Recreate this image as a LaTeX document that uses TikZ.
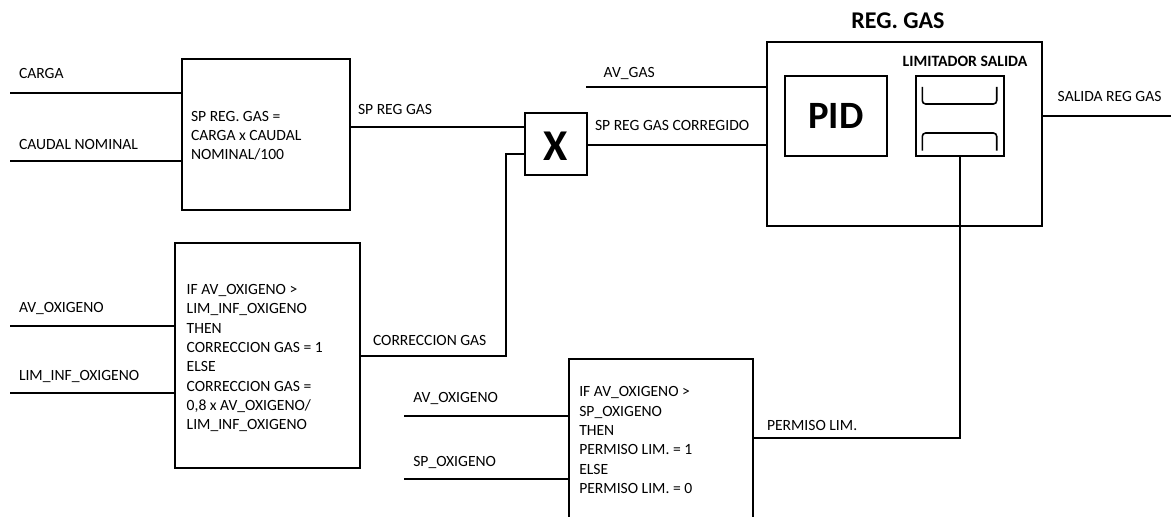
\documentclass[tikz,border=0pt]{standalone}
\usepackage{fontspec}
\setmainfont{Carlito}
\begin{document}
\begin{tikzpicture}[x=0.75pt,y=-0.75pt,
  line width=1.5pt,
  blk/.style={draw,rectangle,line width=1.5pt,inner sep=0pt},
  lbl/.style={anchor=west,inner sep=0pt,font=\fontsize{11.7}{13}\selectfont},
  body/.style={anchor=west,inner sep=0pt,align=left,font=\fontsize{11.7}{14.5}\selectfont},
  wire/.style={draw,line width=1.5pt}]
\clip (0,0) rectangle (1171,517);
\fill[white] (0,0) rectangle (1171,517);
% blocks
\node[blk,minimum width=168pt*0.75,minimum height=151pt*0.75] (calc) at (266,134.5) {};
\node[body] (calct) at (190,135.7) {SP REG. GAS =\\CARGA x CAUDAL\\NOMINAL/100};
\node[blk,minimum width=61.7pt*0.75,minimum height=62.3pt*0.75] (mul) at (555.8,143.8) {};
\node[inner sep=0pt,font=\fontsize{33}{33}\selectfont\bfseries] (mult) at (555.5,146) {X};
\node[blk,minimum width=274.4pt*0.75,minimum height=184pt*0.75] (reg) at (904.5,133.7) {};
\node[inner sep=0pt,font=\fontsize{18}{20}\selectfont\bfseries] (regt) at (898,20.7) {REG. GAS};
\node[blk,minimum width=101.7pt*0.75,minimum height=80pt*0.75] (pid) at (835.8,116) {};
\node[inner sep=0pt,font=\fontsize{29}{30}\selectfont\bfseries] (pidt) at (836,116) {PID};
\node[blk,minimum width=88.6pt*0.75,minimum height=80pt*0.75] (lim) at (960,116) {};
\node[inner sep=0pt,font=\fontsize{11.8}{13}\selectfont\bfseries] (limt) at (965,61.7) {LIMITADOR SALIDA};
\draw[line width=1.2pt,rounded corners=2.5pt] (922.3,87) -- (922.3,104) -- (996.7,104) -- (996.7,87);
\draw[line width=1.2pt,rounded corners=2.5pt] (922.3,150.7) -- (922.3,133) -- (996.7,133) -- (996.7,150.7);
\node[blk,minimum width=185pt*0.75,minimum height=225pt*0.75] (corr) at (267.5,355.8) {};
\node[body] (corrt) at (185.7,358.3) {IF AV\_OXIGENO >\\LIM\_INF\_OXIGENO\\THEN\\CORRECCION GAS = 1\\ELSE\\CORRECCION GAS =\\0,8 x AV\_OXIGENO/\\LIM\_INF\_OXIGENO};
\node[blk,minimum width=184.3pt*0.75,minimum height=221pt*0.75] (perm) at (661.2,469.5) {};
\node[body] (permt) at (578.3,440) {IF AV\_OXIGENO >\\SP\_OXIGENO\\THEN\\PERMISO LIM. = 1\\ELSE\\PERMISO LIM. = 0};
% free ends and levels
\coordinate (carga) at (10,92.7);
\coordinate (caudal) at (10,161);
\coordinate (spy) at (0,127.3);
\coordinate (cory) at (0,154.3);
\coordinate (outy) at (0,145);
\coordinate (corx) at (505.7,356);
\coordinate (avgas) at (586,86.7);
\coordinate (salida) at (1171,116);
\coordinate (avox1) at (10,326);
\coordinate (limox) at (10,393.3);
\coordinate (avox2) at (404,416);
\coordinate (spox) at (404,479.3);
\coordinate (permy) at (0,438);
% connectors
\draw (carga) -- (carga -| calc.west);
\draw (caudal) -- (caudal -| calc.west);
\draw (calc.east |- spy) -- (mul.west |- spy);
\draw (corr.east |- corx) -- (corx) -- (corx |- cory) -- (mul.west |- cory);
\draw (mul.east |- outy) -- (reg.west |- outy);
\draw (avgas) -- (avgas -| reg.west);
\draw (reg.east |- salida) -- (salida);
\draw (avox1) -- (avox1 -| corr.west);
\draw (limox) -- (limox -| corr.west);
\draw (avox2) -- (avox2 -| perm.west);
\draw (spox) -- (spox -| perm.west);
\draw (perm.east |- permy) -- (lim.south |- permy) -- (lim.south);
% labels
\node[lbl] (l1) at (18,73) {CARGA};
\node[lbl] (l2) at (18,144) {CAUDAL NOMINAL};
\node[lbl] (l3) at (357,109) {SP REG GAS};
\node[lbl] (l4) at (602.7,73) {AV\_GAS};
\node[lbl] (l5) at (594,125) {SP REG GAS CORREGIDO};
\node[lbl] (l6) at (1056.7,96.7) {SALIDA REG GAS};
\node[lbl] (l7) at (18,308) {AV\_OXIGENO};
\node[lbl] (l8) at (18,376.7) {LIM\_INF\_OXIGENO};
\node[lbl] (l9) at (372,340) {CORRECCION GAS};
\node[lbl] (l10) at (412.3,398.3) {AV\_OXIGENO};
\node[lbl] (l11) at (412.3,462.3) {SP\_OXIGENO};
\node[lbl] (l12) at (766,425) {PERMISO LIM.};
\end{tikzpicture}
\end{document}
